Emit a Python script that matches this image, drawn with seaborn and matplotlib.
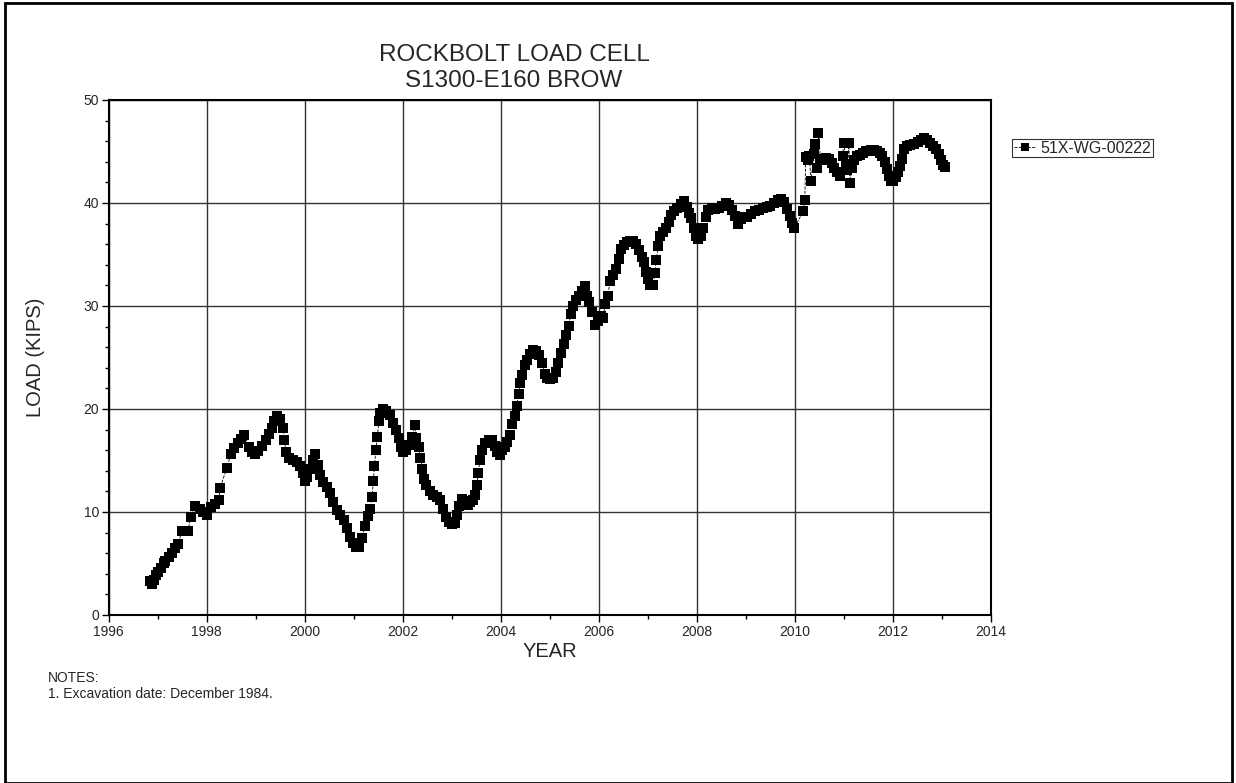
import seaborn as sns
from matplotlib import pyplot as plt
from matplotlib.patches import Rectangle
from matplotlib.ticker import MultipleLocator
import pandas as pd

# readings of load cell 51X-WG-00222 (decimal year, kips)
years = [
    1996.85, 1996.88, 1996.92, 1996.97, 1997.01, 1997.07, 1997.12, 1997.15, 1997.22, 1997.29,
    1997.35, 1997.42, 1997.49, 1997.56, 1997.62, 1997.67, 1997.76, 1997.86, 1997.93, 1998.00,
    1998.08, 1998.17, 1998.25, 1998.27, 1998.41, 1998.49, 1998.56, 1998.63, 1998.70, 1998.76,
    1998.87, 1998.92, 1998.98, 1999.05, 1999.12, 1999.20, 1999.27, 1999.33, 1999.38, 1999.43,
    1999.50, 1999.55, 1999.58, 1999.62, 1999.68, 1999.76, 1999.84, 1999.90, 1999.97, 2000.00,
    2000.05, 2000.11, 2000.17, 2000.21, 2000.26, 2000.31, 2000.38, 2000.45, 2000.52, 2000.58,
    2000.65, 2000.72, 2000.80, 2000.86, 2000.92, 2000.98, 2001.04, 2001.10, 2001.16, 2001.22,
    2001.28, 2001.33, 2001.37, 2001.40, 2001.42, 2001.45, 2001.48, 2001.51, 2001.54, 2001.60,
    2001.66, 2001.74, 2001.80, 2001.86, 2001.92, 2001.97, 2002.01, 2002.07, 2002.13, 2002.18,
    2002.24, 2002.27, 2002.32, 2002.36, 2002.40, 2002.44, 2002.48, 2002.55, 2002.62, 2002.70,
    2002.76, 2002.82, 2002.88, 2002.94, 2003.00, 2003.06, 2003.11, 2003.15, 2003.20, 2003.26,
    2003.32, 2003.38, 2003.44, 2003.48, 2003.51, 2003.54, 2003.57, 2003.62, 2003.68, 2003.75,
    2003.82, 2003.88, 2003.93, 2003.98, 2004.03, 2004.08, 2004.13, 2004.18, 2004.23, 2004.28,
    2004.32, 2004.36, 2004.40, 2004.44, 2004.49, 2004.54, 2004.60, 2004.66, 2004.72, 2004.78,
    2004.84, 2004.89, 2004.95, 2005.01, 2005.07, 2005.12, 2005.17, 2005.22, 2005.28, 2005.33,
    2005.38, 2005.43, 2005.48, 2005.54, 2005.60, 2005.66, 2005.71, 2005.76, 2005.80, 2005.86,
    2005.92, 2005.98, 2006.04, 2006.08, 2006.13, 2006.18, 2006.23, 2006.28, 2006.34, 2006.40,
    2006.46, 2006.52, 2006.58, 2006.64, 2006.70, 2006.76, 2006.82, 2006.87, 2006.91, 2006.96,
    2007.01, 2007.05, 2007.10, 2007.14, 2007.17, 2007.21, 2007.25, 2007.30, 2007.36, 2007.42,
    2007.48, 2007.54, 2007.60, 2007.68, 2007.74, 2007.79, 2007.84, 2007.88, 2007.93, 2007.98,
    2008.03, 2008.08, 2008.13, 2008.18, 2008.23, 2008.30, 2008.37, 2008.44, 2008.52, 2008.60,
    2008.66, 2008.72, 2008.78, 2008.84, 2008.90, 2008.96, 2009.03, 2009.10, 2009.18, 2009.26,
    2009.34, 2009.42, 2009.50, 2009.58, 2009.65, 2009.72, 2009.78, 2009.84, 2009.89, 2009.94,
    2009.99, 2010.17, 2010.20, 2010.22, 2010.26, 2010.29, 2010.33, 2010.38, 2010.41, 2010.45,
    2010.48, 2010.52, 2010.57, 2010.63, 2010.69, 2010.75, 2010.80, 2010.86, 2010.92, 2010.97,
    2011.00, 2011.04, 2011.07, 2011.10, 2011.12, 2011.16, 2011.20, 2011.26, 2011.32, 2011.38,
    2011.44, 2011.50, 2011.56, 2011.62, 2011.68, 2011.74, 2011.78, 2011.83, 2011.88, 2011.92,
    2011.96, 2012.01, 2012.06, 2012.10, 2012.14, 2012.18, 2012.22, 2012.28, 2012.35, 2012.42,
    2012.50, 2012.57, 2012.64, 2012.70, 2012.76, 2012.82, 2012.88, 2012.94, 2012.98, 2013.03,
    2013.07,
]
loads = [
    3.3, 3.0, 3.4, 3.9, 4.2, 4.6, 5.0, 5.2, 5.6, 6.0,
    6.5, 6.9, 8.2, 8.2, 8.2, 9.5, 10.6, 10.3, 10.0, 9.7,
    10.5, 10.8, 11.2, 12.3, 14.3, 15.6, 16.2, 16.7, 17.1, 17.5,
    16.3, 15.8, 15.6, 15.9, 16.4, 17.0, 17.6, 18.2, 18.8, 19.3,
    19.0, 18.2, 17.0, 15.8, 15.2, 15.0, 14.9, 14.5, 13.8, 13.0,
    13.4, 14.2, 15.0, 15.6, 14.6, 13.6, 12.9, 12.4, 11.8, 11.0,
    10.2, 9.7, 9.2, 8.4, 7.6, 7.0, 6.6, 6.6, 7.5, 8.6,
    9.6, 10.3, 11.5, 13.0, 14.5, 16.0, 17.3, 18.8, 19.6, 20.0,
    19.8, 19.4, 18.6, 18.0, 17.2, 16.3, 15.8, 16.0, 16.5, 17.3,
    18.4, 17.2, 16.3, 15.2, 14.2, 13.2, 12.6, 12.0, 11.6, 11.5,
    11.2, 10.3, 9.5, 9.0, 8.8, 8.9, 9.7, 10.6, 11.3, 11.1,
    10.7, 11.0, 11.2, 11.6, 12.6, 13.8, 15.0, 16.0, 16.7, 17.0,
    17.0, 16.4, 15.8, 15.5, 16.0, 16.3, 16.8, 17.5, 18.5, 19.3,
    20.3, 21.5, 22.5, 23.3, 24.3, 24.8, 25.3, 25.7, 25.6, 25.2,
    24.5, 23.4, 23.0, 22.9, 23.0, 23.6, 24.5, 25.4, 26.3, 27.2,
    28.1, 29.2, 30.0, 30.6, 31.0, 31.5, 31.9, 31.0, 30.4, 29.4,
    28.2, 28.5, 29.0, 28.8, 30.2, 31.0, 32.4, 33.0, 33.6, 34.6,
    35.5, 35.9, 36.2, 36.3, 36.3, 36.0, 35.4, 34.8, 34.3, 33.3,
    32.6, 32.0, 32.0, 33.2, 34.5, 35.8, 36.8, 37.2, 37.6, 38.2,
    38.8, 39.2, 39.5, 39.9, 40.2, 39.6, 39.0, 38.5, 37.6, 36.8,
    36.5, 36.8, 37.6, 38.6, 39.3, 39.5, 39.4, 39.5, 39.7, 40.0,
    39.8, 39.3, 38.7, 38.0, 38.4, 38.6, 38.6, 38.9, 39.2, 39.3,
    39.5, 39.6, 39.7, 40.0, 40.3, 40.4, 40.1, 39.4, 38.7, 38.1,
    37.6, 39.2, 40.3, 44.5, 44.2, 44.6, 42.1, 44.8, 45.7, 43.4,
    46.8, 44.3, 44.2, 44.4, 44.3, 43.9, 43.4, 43.0, 42.6, 44.6,
    45.8, 43.8, 43.2, 45.8, 41.9, 43.4, 44.2, 44.6, 44.7, 44.9,
    45.0, 45.0, 45.1, 45.1, 45.0, 44.9, 44.6, 44.0, 43.3, 42.6,
    42.1, 42.1, 42.5, 43.0, 43.6, 44.3, 45.2, 45.5, 45.6, 45.7,
    45.9, 46.1, 46.3, 46.1, 45.8, 45.5, 45.2, 44.8, 44.2, 43.7,
    43.5,
]
series_name = "51X-WG-00222"

df = pd.DataFrame({"year": years, "load": loads})

sns.set_theme(style="white")
plt.rcParams['font.family'] = ['Liberation Sans', 'DejaVu Sans']

fig = plt.figure(figsize=(12.36, 7.83), dpi=100)
ax = fig.add_axes([0.088, 0.2146, 0.7138, 0.6577])

sns.lineplot(data=df, x="year", y="load", ax=ax, sort=False, estimator=None,
             color="black", linestyle="--", linewidth=0.6,
             marker="s", markersize=7, markeredgewidth=0, label=series_name)

ax.set_xlim(1996, 2014)
ax.set_ylim(0, 50)
ax.xaxis.set_major_locator(MultipleLocator(2))
ax.xaxis.set_minor_locator(MultipleLocator(1))
ax.yaxis.set_major_locator(MultipleLocator(10))
ax.yaxis.set_minor_locator(MultipleLocator(2))
ax.grid(True, which="major", color="#333333", linewidth=1.0)
ax.tick_params(which="major", direction="out", length=5, width=1, color="black",
               labelsize=10, pad=2, bottom=True, left=True)
ax.tick_params(which="minor", direction="out", length=3, width=1, color="black",
               bottom=True, left=True)
for sp in ax.spines.values():
    sp.set_color("black")
    sp.set_linewidth(1.5)

ax.set_xlabel("YEAR", fontsize=14.5)
ax.set_ylabel("LOAD (KIPS)", fontsize=14.5)
ax.xaxis.set_label_coords(0.5, -0.052)
ax.yaxis.set_label_coords(-0.072, 0.5)

fig.text(514 / 1236, 1 - 68 / 783, "ROCKBOLT LOAD CELL\nS1300-E160 BROW",
         ha="center", va="center", fontsize=17.5, linespacing=1.2)

leg = ax.legend(loc="upper left", bbox_to_anchor=(1012 / 1236, 1 - 139 / 783),
                bbox_transform=fig.transFigure, frameon=True, fancybox=False,
                edgecolor="black", fontsize=11.5, handlelength=1.4, handletextpad=0.3,
                borderpad=0.1, borderaxespad=0, markerscale=0.9)
leg.get_frame().set_linewidth(0.8)

fig.text(48 / 1236, 1 - 678 / 783, "NOTES:", fontsize=10, va="center")
fig.text(48 / 1236, 1 - 694 / 783, "1. Excavation date: December 1984.", fontsize=10, va="center")

fig.patches.append(Rectangle((5 / 1236, 0.0), 1227 / 1236, 1 - 3 / 783, transform=fig.transFigure,
                             fill=False, edgecolor="black", linewidth=2))

fig.savefig("out.png", dpi=100)
